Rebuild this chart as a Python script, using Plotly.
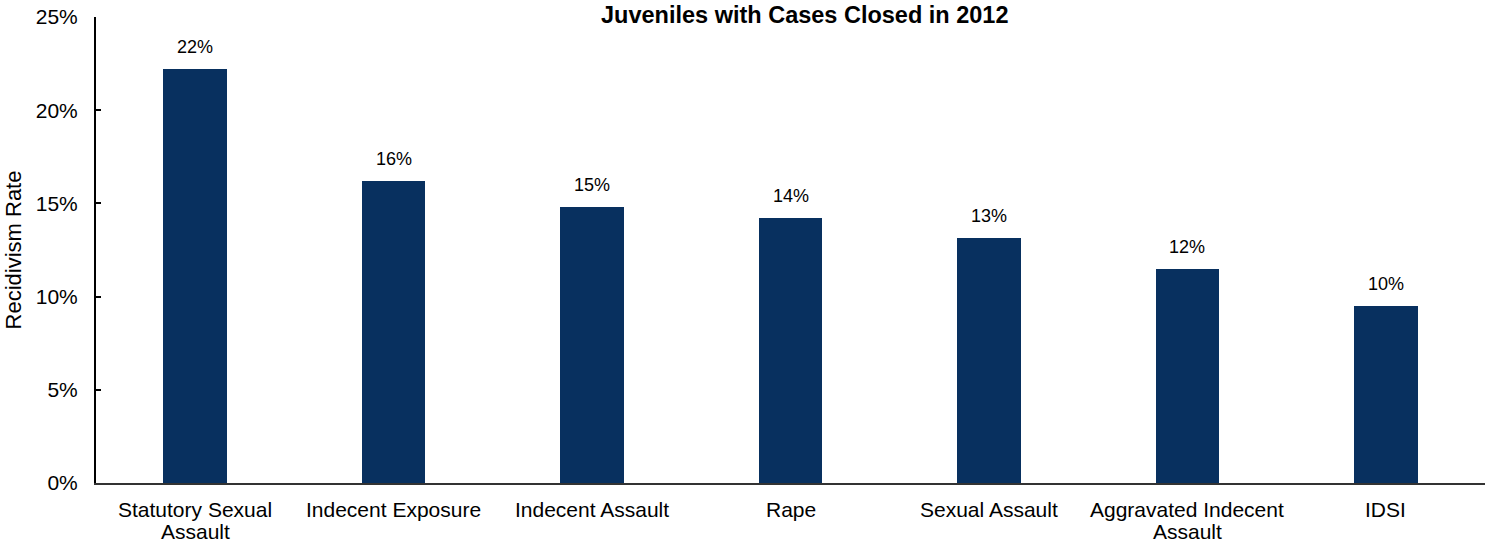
import plotly.graph_objects as go

categories = ["Statutory Sexual Assault", "Indecent Exposure", "Indecent Assault", "Rape",
              "Sexual Assault", "Aggravated Indecent Assault", "IDSI"]
cat_lines = [["Statutory Sexual", "Assault"], ["Indecent Exposure"], ["Indecent Assault"], ["Rape"],
             ["Sexual Assault"], ["Aggravated Indecent", "Assault"], ["IDSI"]]
values = [22.2, 16.2, 14.8, 14.2, 13.15, 11.5, 9.5]
labels = ["22%", "16%", "15%", "14%", "13%", "12%", "10%"]
tick_vals = [0, 5, 10, 15, 20, 25]
tick_text = ["0%", "5%", "10%", "15%", "20%", "25%"]

FONT = "Liberation Sans, Arial, sans-serif"
BAR = "#08305F"

fig = go.Figure()
fig.add_trace(go.Bar(x=categories, y=values, marker=dict(color=BAR, line=dict(width=0)),
                     width=0.32, hoverinfo="skip"))

# value labels above bars
for c, v, t in zip(categories, values, labels):
    fig.add_annotation(x=c, y=v, text=t, showarrow=False, yanchor="middle", yshift=22,
                       font=dict(family=FONT, size=18, color="#000000"))

# category labels (tight line spacing)
for c, lines in zip(categories, cat_lines):
    for i, ln in enumerate(lines):
        fig.add_annotation(x=c, y=0, text=ln, showarrow=False, yanchor="middle",
                           yshift=-(26 + 22 * i),
                           font=dict(family=FONT, size=21, color="#000000"))

fig.add_annotation(xref="paper", yref="paper", x=0.5104, y=1, yanchor="middle", yshift=2,
                   text="<b>Juveniles with Cases Closed in 2012</b>", showarrow=False,
                   font=dict(family=FONT, size=23.5, color="#000000"))

fig.update_layout(
    width=1490, height=543,
    margin=dict(l=96, r=5, t=17, b=60, autoexpand=False),
    paper_bgcolor="white", plot_bgcolor="white",
    showlegend=False,
    bargap=0,
    font=dict(family=FONT, size=21, color="#000000"),
)
fig.update_xaxes(showgrid=False, showline=True, linecolor="#333333", linewidth=2,
                 ticks="", showticklabels=False, zeroline=False, automargin=False)
fig.update_yaxes(range=[0, 25], tickvals=tick_vals, ticktext=tick_text,
                 showgrid=False, showline=True, linecolor="#000000", linewidth=2,
                 ticks="inside", ticklen=5, tickwidth=2, tickcolor="#000000",
                 ticklabelstandoff=12, automargin=False,
                 tickfont=dict(family=FONT, size=21, color="#000000"),
                 zeroline=False,
                 title=dict(text="Recidivism Rate", standoff=8,
                            font=dict(family=FONT, size=22, color="#000000")))

fig.write_html("out.html", config={"displayModeBar": False},
               post_script="document.body.style.margin='0';document.body.style.overflow='hidden';")
